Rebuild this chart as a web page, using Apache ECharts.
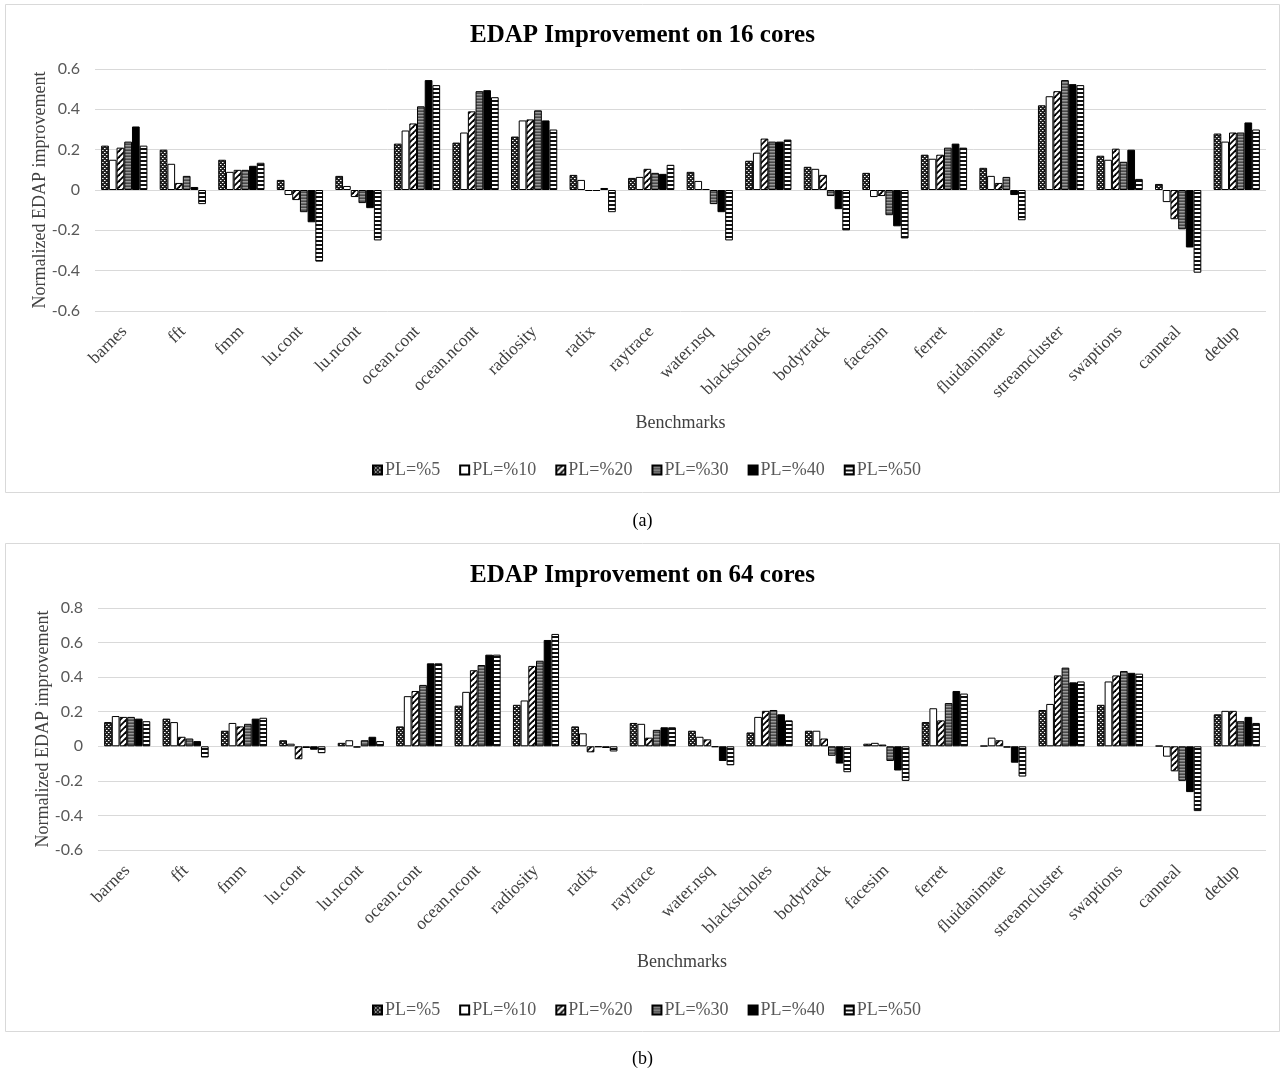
<!DOCTYPE html>
<html>
<head>
<meta charset="utf-8">
<script src="https://cdn.jsdelivr.net/npm/echarts@6/dist/echarts.min.js"></script>
<style>
html,body{margin:0;padding:0;background:#fff;}
#c{width:1285px;height:1072px;}
</style>
</head>
<body>
<div id="c"></div>
<script>
const categories = ['barnes','fft','fmm','lu.cont','lu.ncont','ocean.cont','ocean.ncont','radiosity','radix','raytrace','water.nsq','blackscholes','bodytrack','facesim','ferret','fluidanimate','streamcluster','swaptions','canneal','dedup'];
const seriesNames = ['PL=%5','PL=%10','PL=%20','PL=%30','PL=%40','PL=%50'];

// 16 cores
const pl5_16  = [0.22,0.20,0.15,0.05,0.07,0.23,0.235,0.265,0.075,0.06,0.09,0.145,0.115,0.085,0.175,0.11,0.42,0.17,0.03,0.28];
const pl10_16 = [0.15,0.13,0.09,-0.025,0.02,0.295,0.285,0.345,0.05,0.065,0.045,0.185,0.105,-0.035,0.155,0.07,0.465,0.15,-0.06,0.24];
const pl20_16 = [0.21,0.035,0.10,-0.05,-0.035,0.33,0.39,0.35,-0.005,0.105,0.005,0.255,0.075,-0.03,0.175,0.035,0.49,0.205,-0.145,0.285];
const pl30_16 = [0.24,0.07,0.10,-0.11,-0.065,0.415,0.49,0.395,-0.005,0.085,-0.07,0.24,-0.03,-0.125,0.21,0.065,0.545,0.14,-0.195,0.285];
const pl40_16 = [0.315,0.015,0.12,-0.16,-0.09,0.545,0.495,0.345,0.01,0.08,-0.11,0.24,-0.095,-0.18,0.23,-0.025,0.525,0.20,-0.285,0.335];
const pl50_16 = [0.22,-0.07,0.135,-0.355,-0.25,0.52,0.46,0.30,-0.11,0.125,-0.25,0.25,-0.20,-0.24,0.21,-0.15,0.52,0.055,-0.41,0.30];

// 64 cores
const pl5_64  = [0.14,0.16,0.09,0.035,0.02,0.115,0.235,0.24,0.115,0.135,0.09,0.08,0.09,0.015,0.14,0.003,0.21,0.24,0.003,0.185];
const pl10_64 = [0.175,0.14,0.135,0.015,0.035,0.29,0.315,0.265,0.075,0.13,0.055,0.17,0.09,0.02,0.22,0.05,0.245,0.375,-0.06,0.205];
const pl20_64 = [0.17,0.055,0.115,-0.075,-0.008,0.32,0.44,0.465,-0.035,0.05,0.04,0.205,0.045,0.01,0.15,0.035,0.41,0.41,-0.145,0.205];
const pl30_64 = [0.17,0.045,0.13,-0.01,0.035,0.355,0.47,0.495,-0.005,0.095,-0.005,0.21,-0.055,-0.085,0.25,-0.008,0.455,0.435,-0.20,0.145];
const pl40_64 = [0.16,0.03,0.16,-0.02,0.055,0.48,0.53,0.615,-0.01,0.11,-0.085,0.185,-0.10,-0.14,0.32,-0.095,0.37,0.425,-0.265,0.17];
const pl50_64 = [0.145,-0.065,0.165,-0.04,0.03,0.48,0.53,0.65,-0.03,0.11,-0.11,0.15,-0.15,-0.20,0.305,-0.175,0.375,0.42,-0.375,0.135];

const titles = ['EDAP Improvement on 16 cores','EDAP Improvement on 64 cores'];
const captions = ['(a)','(b)'];

// ---------- patterns ----------
function mk(w,h,draw){const c=document.createElement('canvas');c.width=w;c.height=h;const g=c.getContext('2d');draw(g,w,h);return {image:c,repeat:'repeat'};}
const patDots = mk(4,4,(g)=>{g.fillStyle='#222';g.fillRect(0,0,4,4);g.fillStyle='#fff';g.fillRect(0,0,1,1);g.fillRect(2,2,1,1);g.fillStyle='#999';g.fillRect(1,0,1,1);g.fillRect(3,2,1,1);});
const patWhite = '#ffffff';
const patDiag = mk(6,6,(g)=>{g.fillStyle='#fff';g.fillRect(0,0,6,6);g.strokeStyle='#000';g.lineWidth=1.8;g.beginPath();g.moveTo(-1,7);g.lineTo(7,-1);g.stroke();g.beginPath();g.moveTo(-4,4);g.lineTo(4,-4);g.stroke();g.beginPath();g.moveTo(2,10);g.lineTo(10,2);g.stroke();});
const patGray = mk(2,3,(g)=>{g.fillStyle='#4a4a4a';g.fillRect(0,0,2,1);g.fillStyle='#9a9a9a';g.fillRect(0,1,2,1);g.fillStyle='#6a6a6a';g.fillRect(0,2,2,1);});
const patBlack = '#000000';
const patHStripe = mk(2,4,(g)=>{g.fillStyle='#fff';g.fillRect(0,0,2,4);g.fillStyle='#111';g.fillRect(0,0,2,2);});
const patterns = [patDots,patWhite,patDiag,patGray,patBlack,patHStripe];

const data16 = [pl5_16,pl10_16,pl20_16,pl30_16,pl40_16,pl50_16];
const data64 = [pl5_64,pl10_64,pl20_64,pl30_64,pl40_64,pl50_64];

const serif = '"Liberation Serif","Times New Roman",serif';
const sans = 'Lato,"Liberation Sans",sans-serif';

const grids = [
  {left:95, top:69, width:1171, height:242, outerBoundsMode:'none', containLabel:false},
  {left:98, top:608, width:1168, height:242, outerBoundsMode:'none', containLabel:false}
];
const yRanges = [{min:-0.6,max:0.6,interval:0.2},{min:-0.6,max:0.8,interval:0.2}];

function xAxis(i){return {type:'category',gridIndex:i,data:categories,
  axisLine:{show:false},axisTick:{show:false},
  axisLabel:{rotate:45,interval:0,margin:18,fontFamily:serif,fontSize:17.5,color:'#404040'},
  name:'Benchmarks',nameLocation:'middle',nameGap:103,nameMoveOverlap:false,
  nameTextStyle:{fontFamily:serif,fontSize:18,color:'#404040'}};}
function yAxis(i){return {type:'value',gridIndex:i,min:yRanges[i].min,max:yRanges[i].max,interval:yRanges[i].interval,
  axisLine:{show:false},axisTick:{show:false},
  axisLabel:{fontFamily:sans,fontSize:16,color:'#595959',margin:15,formatter:(v)=>{const r=Math.round(v*10)/10;return r===0?'0':r.toFixed(1);}},
  splitLine:{lineStyle:{color:'#d9d9d9',width:1}},
  name:'Normalized EDAP improvement',nameLocation:'middle',nameGap:46,nameMoveOverlap:false,
  nameTextStyle:{fontFamily:serif,fontSize:18,color:'#404040'}};}

const series=[];
[data16,data64].forEach((ds,gi)=>{
  ds.forEach((d,si)=>{
    series.push({type:'bar',name:seriesNames[si],xAxisIndex:gi,yAxisIndex:gi,data:d,
      barGap:'0%',barCategoryGap:'21%',
      itemStyle:{color:patterns[si],borderColor:'#000',borderWidth:1},
      emphasis:{disabled:true},animation:false});
  });
});

const legends=[0,1].map(i=>({data:seriesNames,left:367,top:i===0?456:996,itemWidth:9,itemHeight:9,itemGap:19,
  icon:'rect',
  textStyle:{fontFamily:serif,fontSize:18,color:'#595959',padding:[0,0,0,-2]},selectedMode:false}));

const option={
  backgroundColor:'#fff',
  animation:false,
  title:[0,1].map(i=>({text:titles[i],left:'center',top:i===0?18:558,textStyle:{fontFamily:serif,fontSize:25,fontWeight:'bold',color:'#000'}})),
  legend:legends,
  grid:grids,
  xAxis:[xAxis(0),xAxis(1)],
  yAxis:[yAxis(0),yAxis(1)],
  series:series,
  graphic:[
    {type:'rect',shape:{x:5.5,y:4.5,width:1274,height:488},style:{fill:null,stroke:'#d9d9d9',lineWidth:1},silent:true,z:-1},
    {type:'rect',shape:{x:5.5,y:543.5,width:1274,height:488},style:{fill:null,stroke:'#d9d9d9',lineWidth:1},silent:true,z:-1},
    {type:'text',left:'center',top:512,style:{text:captions[0],font:'18px '+serif,fill:'#000'}},
    {type:'text',left:'center',top:1050,style:{text:captions[1],font:'18px '+serif,fill:'#000'}}
  ]
};
const chart=echarts.init(document.getElementById('c'),null,{renderer:'canvas'});
chart.setOption(option);
</script>
</body>
</html>
